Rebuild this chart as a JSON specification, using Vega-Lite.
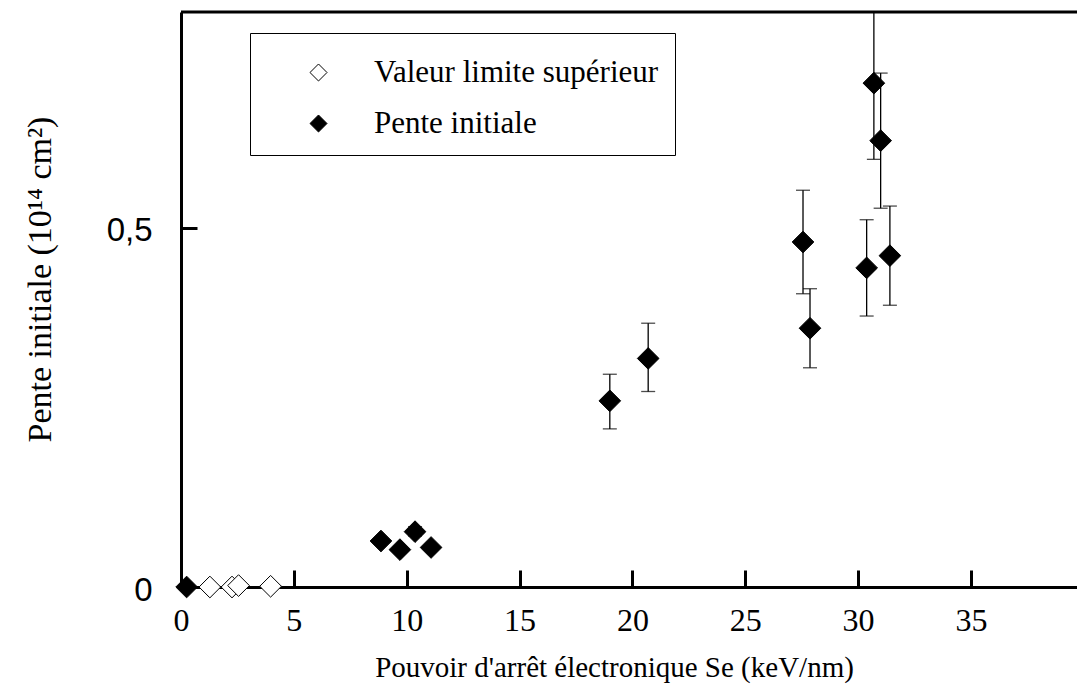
{
  "$schema": "https://vega.github.io/schema/vega-lite/v6.json",
  "width": 896,
  "height": 575,
  "autosize": {"type": "none"},
  "padding": {"left": 181, "top": 12, "right": 0, "bottom": 103},
  "background": "white",
  "config": {
    "view": {"stroke": null},
    "font": "Liberation Serif",
    "axisX": {"labelFont": "Liberation Serif", "labelFontSize": 32},
    "axisY": {"labelFont": "Liberation Sans", "labelFontSize": 33}
  },
  "data": {
    "values": [
      {"serie": "Valeur limite supérieur", "x": 1.28, "y": 0.0},
      {"serie": "Valeur limite supérieur", "x": 2.26, "y": 0.0},
      {"serie": "Valeur limite supérieur", "x": 2.55, "y": 0.002},
      {"serie": "Valeur limite supérieur", "x": 3.97, "y": 0.001},
      {"serie": "Pente initiale", "x": 0.25, "y": 0.0},
      {"serie": "Pente initiale", "x": 8.86, "y": 0.064},
      {"serie": "Pente initiale", "x": 9.7, "y": 0.052},
      {"serie": "Pente initiale", "x": 10.37, "y": 0.077, "lo": 0.071, "hi": 0.084},
      {"serie": "Pente initiale", "x": 11.08, "y": 0.055},
      {"serie": "Pente initiale", "x": 19.0, "y": 0.259, "lo": 0.22, "hi": 0.296},
      {"serie": "Pente initiale", "x": 20.7, "y": 0.318, "lo": 0.272, "hi": 0.367},
      {"serie": "Pente initiale", "x": 27.56, "y": 0.48, "lo": 0.408, "hi": 0.552},
      {"serie": "Pente initiale", "x": 27.87, "y": 0.36, "lo": 0.305, "hi": 0.415},
      {"serie": "Pente initiale", "x": 30.38, "y": 0.444, "lo": 0.377, "hi": 0.511},
      {"serie": "Pente initiale", "x": 31.41, "y": 0.461, "lo": 0.392, "hi": 0.53},
      {"serie": "Pente initiale", "x": 30.7, "y": 0.701, "lo": 0.595, "hi": 0.86},
      {"serie": "Pente initiale", "x": 31.0, "y": 0.621, "lo": 0.527, "hi": 0.715}
    ]
  },
  "encoding": {
    "x": {
      "field": "x",
      "type": "quantitative",
      "scale": {"domain": [0, 39.7], "nice": false, "zero": false},
      "axis": {
        "values": [0, 5, 10, 15, 20, 25, 30, 35],
        "title": "Pouvoir d'arrêt électronique Se (keV/nm)",
        "grid": false,
        "labelFont": "Liberation Serif",
        "labelFontSize": 32,
        "labelColor": "black",
        "labelPadding": 35,
        "labelFlush": false,
        "tickSize": -17,
        "tickWidth": 3,
        "tickColor": "black",
        "domainColor": "black",
        "domainWidth": 3,
        "titleFont": "Liberation Serif",
        "titleFontSize": 29,
        "titleFontWeight": "normal",
        "titleColor": "black",
        "titleX": 433,
        "titleY": 80,
        "titleAlign": "center",
        "titleBaseline": "middle",
        "encode": {"labels": {"update": {"font": {"value": "Liberation Serif"}}}}
      }
    }
  },
  "layer": [
    {
      "transform": [{"filter": "isValid(datum.lo)"}],
      "mark": {"type": "rule", "color": "black", "strokeWidth": 1.3, "clip": true},
      "encoding": {
        "y": {
          "field": "lo",
          "type": "quantitative",
          "scale": {"domain": [0, 0.8], "nice": false},
          "axis": {
            "values": [0, 0.5],
            "title": "Pente initiale (10¹⁴ cm²)",
            "grid": false,
            "labelExpr": "datum.value == 0 ? '0' : replace(format(datum.value, '.1f'), '.', ',')",
            "labelFont": "Liberation Sans",
            "labelFontSize": 33,
            "labelColor": "black",
            "labelPadding": 45,
            "labelOffset": 3,
            "tickSize": -16,
            "tickWidth": 3,
            "tickColor": "black",
            "domainColor": "black",
            "domainWidth": 3,
            "titleFont": "Liberation Serif",
            "titleFontSize": 34,
            "titleFontWeight": "normal",
            "titleColor": "black",
            "titleX": -141,
            "titleY": 267,
            "titleAngle": -90,
            "titleAlign": "center",
            "titleBaseline": "middle"
          }
        },
        "y2": {"field": "hi"}
      }
    },
    {
      "transform": [{"filter": "isValid(datum.lo)"}],
      "mark": {"type": "tick", "orient": "horizontal", "color": "black", "size": 14, "thickness": 1.3, "clip": true},
      "encoding": {
        "y": {"field": "lo", "type": "quantitative", "title": "Pente initiale (10¹⁴ cm²)"}
      }
    },
    {
      "transform": [{"filter": "isValid(datum.hi)"}],
      "mark": {"type": "tick", "orient": "horizontal", "color": "black", "size": 14, "thickness": 1.3, "clip": true},
      "encoding": {
        "y": {"field": "hi", "type": "quantitative", "title": "Pente initiale (10¹⁴ cm²)"}
      }
    },
    {
      "mark": {"type": "point", "shape": "diamond", "filled": true, "size": 470, "stroke": "black", "strokeWidth": 1, "opacity": 1},
      "encoding": {
        "y": {"field": "y", "type": "quantitative", "title": "Pente initiale (10¹⁴ cm²)"},
        "fill": {
          "field": "serie",
          "type": "nominal",
          "scale": {"domain": ["Valeur limite supérieur", "Pente initiale"], "range": ["white", "black"]},
          "legend": {
            "orient": "none",
            "legendX": 69,
            "legendY": 21,
            "title": null,
            "fillColor": "white",
            "strokeColor": "black",
            "padding": 16,
            "symbolType": "M-0.37,0L0,-0.37L0.37,0L0,0.37Z",
            "symbolSize": 2116,
            "symbolOffset": 29,
            "symbolStrokeColor": "black",
            "symbolStrokeWidth": 1,
            "labelOffset": 32,
            "rowPadding": 12,
            "labelFont": "Liberation Serif",
            "labelFontSize": 31,
            "labelColor": "black",
            "labelLimit": 500,
            "encode": {"legend": {"update": {"strokeWidth": {"value": 3}}}}
          }
        }
      }
    },
    {
      "data": {"values": [{"top": 0.8}]},
      "mark": {"type": "rule", "color": "black", "strokeWidth": 3},
      "encoding": {
        "x": null,
        "y": {"field": "top", "type": "quantitative", "title": "Pente initiale (10¹⁴ cm²)"}
      }
    }
  ]
}
